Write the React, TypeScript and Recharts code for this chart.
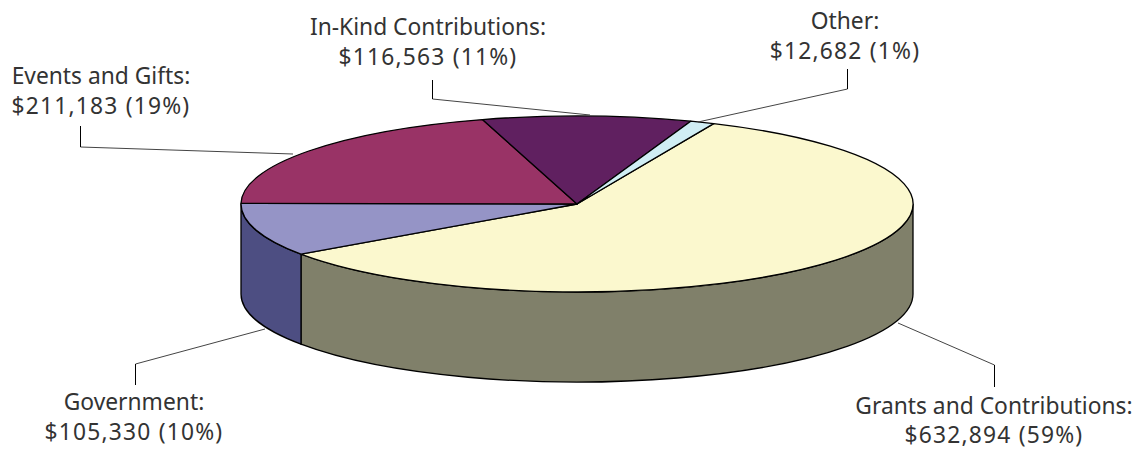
import React from "react";
import { PieChart, Pie, Cell } from "recharts";

const categories = ["Grants and Contributions", "Government", "Events and Gifts", "In-Kind Contributions", "Other"];
const amounts = [632894, 105330, 211183, 116563, 12682];
const percentLabels = [59, 10, 19, 11, 1];
const topColors = ["#FBF8CE", "#9594C6", "#993366", "#602060", "#D0EEF4"];
const sideColors = ["#80806A", "#4D4E82", "#993366", "#602060", "#D0EEF4"];

const rows = categories.map((name, i) => ({ name, value: amounts[i], pct: percentLabels[i] }));

const W = 1138, H = 450, CX = 577, CY = 204, RX = 336, RY = 88, DEPTH = 90;
const FONT = "'Noto Sans', sans-serif", FS = 22.8, LH = 29.5;

// leader lines and label blocks: [anchor x, anchor y, elbow x, elbow y, end y, text centre x, first baseline y]
const labelLayout = [
  [898, 323, 994, 365, 387, 994, 413.5],
  [265, 329, 135, 364, 385, 134, 410],
  [293, 154, 80, 147, 126, 101, 84],
  [590, 115, 432, 99, 80, 428, 35],
  [698, 122, 847, 89, 69, 845, 29],
];

// slight foreshortening of the far edge seen in the reference (angles in degrees, math orientation)
const warp = (t: number) => {
  const n = ((t % 360) + 360) % 360;
  return n > 70 && n < 180 ? t - 3.1 * Math.sin((Math.PI * (n - 70)) / 110) : t;
};
const pt = (t: number, dy = 0) => {
  const r = (warp(t) * Math.PI) / 180;
  return [CX + RX * Math.cos(r), CY - RY * Math.sin(r) + dy];
};

function Sector3D(props: any) {
  const { startAngle, endAngle, index } = props;
  const i = index ?? rows.findIndex((r) => r.name === props.name);
  const [sx, sy] = pt(startAngle);
  const [ex, ey] = pt(endAngle);
  const large = Math.abs(startAngle - endAngle) > 180 ? 1 : 0;
  const top = `M${CX},${CY} L${sx},${sy} A${RX},${RY} 0 ${large} 1 ${ex},${ey} Z`;
  const hi = Math.min(startAngle, 0);
  const lo = Math.max(endAngle, -180);
  let side = "";
  if (lo < hi) {
    const [ax, ay] = pt(hi);
    const [bx, by] = pt(lo);
    side = `M${ax},${ay} A${RX},${RY} 0 0 1 ${bx},${by} L${bx},${by + DEPTH} A${RX},${RY} 0 0 0 ${ax},${ay + DEPTH} Z`;
  }
  return (
    <g>
      {side && <path d={side} fill={sideColors[i]} stroke="#000" strokeWidth={1.3} />}
      <path d={top} fill={topColors[i]} stroke="#000" strokeWidth={1.3} strokeLinejoin="round" />
    </g>
  );
}

function SliceLabel(props: any) {
  const { index } = props;
  const [ax, ay, ex, ey, ty, tx, by] = labelLayout[index];
  const row = rows[index];
  return (
    <g>
      <line x1={ax} y1={ay} x2={ex + 0.5} y2={ey} stroke="#444" strokeWidth={1} />
      <line x1={ex + 0.5} y1={ey} x2={ex + 0.5} y2={ty} stroke="#000" strokeWidth={1} />
      <text x={tx} y={by} textAnchor="middle" fontFamily={FONT} fontSize={FS} fill="#333">
        {row.name}:
      </text>
      <text x={tx} y={by + LH} textAnchor="middle" fontFamily={FONT} fontSize={FS} fill="#333" letterSpacing={1.2}>
        {`$${row.value.toLocaleString("en-US")} (${row.pct}%)`}
      </text>
    </g>
  );
}

export default function App() {
  return (
    <div style={{ position: "absolute", left: 0, top: 0, width: W, height: H, background: "#fff" }}>
      <PieChart width={W} height={H} margin={{ top: 0, right: 0, bottom: 0, left: 0 }}>
        <Pie
          data={rows}
          dataKey="value"
          nameKey="name"
          cx={CX}
          cy={CY}
          innerRadius={0}
          outerRadius={RX}
          startAngle={66}
          endAngle={-294}
          paddingAngle={0}
          isAnimationActive={false}
          shape={Sector3D}
          label={SliceLabel}
          labelLine={false}
          stroke="none"
        >
          {rows.map((r, i) => (
            <Cell key={r.name} fill={topColors[i]} />
          ))}
        </Pie>
      </PieChart>
    </div>
  );
}
